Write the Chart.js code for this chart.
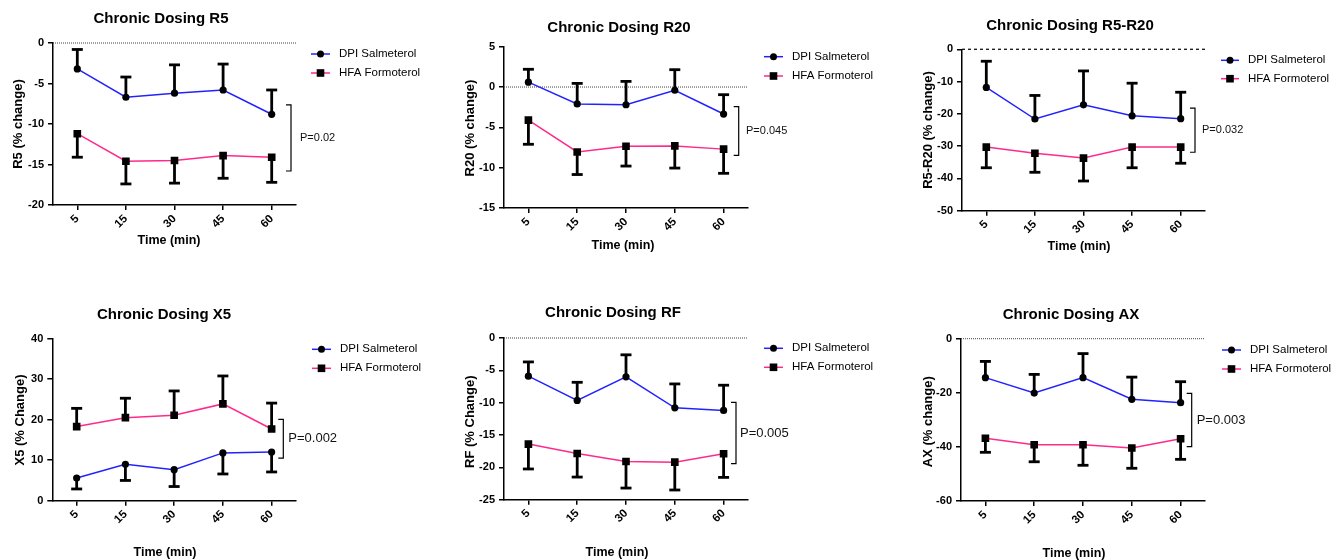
<!DOCTYPE html>
<html><head><meta charset="utf-8">
<script src="https://cdn.jsdelivr.net/npm/chart.js@4.4.0/dist/chart.umd.min.js"></script>
<style>
html,body{margin:0;padding:0;background:#fff;overflow:hidden;width:1334px;height:560px;position:relative}
canvas{position:absolute}
</style></head><body>
<script>
// ---- data ----
const timeLabels = ['5', '15', '30', '45', '60'];
const seriesNames = ['DPI Salmeterol', 'HFA Formoterol'];

const r5Dpi = [-3.2, -6.7, -6.2, -5.8, -8.8];
const r5DpiErr = [2.4, 2.5, 3.5, 3.2, 3.0];
const r5Hfa = [-11.2, -14.6, -14.5, -13.9, -14.1];
const r5HfaErr = [2.9, 2.8, 2.8, 2.8, 3.1];

const r20Dpi = [0.6, -2.1, -2.2, -0.4, -3.35];
const r20DpiErr = [1.6, 2.55, 2.9, 2.55, 2.4];
const r20Hfa = [-4.1, -8.05, -7.35, -7.3, -7.7];
const r20HfaErr = [3.0, 2.8, 2.45, 2.75, 3.0];

const r5r20Dpi = [-11.8, -21.6, -17.2, -20.6, -21.5];
const r5r20DpiErr = [8.1, 7.3, 10.5, 10.1, 8.2];
const r5r20Hfa = [-30.3, -32.2, -33.7, -30.3, -30.3];
const r5r20HfaErr = [6.4, 5.9, 7.1, 6.4, 5.0];

const x5Dpi = [5.6, 9.0, 7.65, 11.8, 12.0];
const x5DpiErr = [2.7, 4.0, 4.15, 5.2, 4.9];
const x5Hfa = [18.3, 20.5, 21.1, 23.9, 17.7];
const x5HfaErr = [4.5, 4.8, 6.0, 6.9, 6.4];

const rfDpi = [-5.9, -9.65, -6.0, -10.8, -11.2];
const rfDpiErr = [2.2, 2.8, 3.4, 3.7, 3.9];
const rfHfa = [-16.4, -17.85, -19.1, -19.2, -17.9];
const rfHfaErr = [3.85, 3.65, 4.1, 4.3, 3.65];

const axDpi = [-14.4, -20.1, -14.4, -22.4, -23.65];
const axDpiErr = [6.0, 6.9, 8.9, 8.2, 7.75];
const axHfa = [-36.8, -39.2, -39.2, -40.4, -37.0];
const axHfaErr = [5.2, 6.3, 7.6, 7.5, 7.6];

const panelTitles = ['Chronic Dosing R5', 'Chronic Dosing R20', 'Chronic Dosing R5-R20',
                     'Chronic Dosing X5', 'Chronic Dosing RF', 'Chronic Dosing AX'];
const yAxisTitles = ['R5 (% change)', 'R20 (% change)', 'R5-R20 (% change)',
                     'X5 (% Change)', 'RF (% Change)', 'AX (% change)'];
const xAxisTitle = 'Time (min)';
const pValues = ['P=0.02', 'P=0.045', 'P=0.032', 'P=0.002', 'P=0.005', 'P=0.003'];
const pBracketRanges = [[-7.65, -15.8], [-2.44, -8.47], [-18.2, -31.9], [20.1, 10.5], [-9.94, -19.43], [-20.2, -39.9]];
const yMins = [-20, -15, -50, 0, -25, -60];
const yMaxs = [0, 5, 0, 40, 0, 0];
const ySteps = [5, 5, 10, 10, 5, 20];

// ---- layout (page pixels) ----
const FONT = "'Liberation Sans', Arial, Helvetica, sans-serif";
const layouts = [
  {L:53, T:43, R:296, B:205, title:[161,19], ylab:[18,124], xlab:[169,241], leg:[311,330,339,54,73], brX:291, brTx:300, pSize:11, zero:'dot'},
  {L:504, T:46.7, R:748, B:208, title:[619,27.7], ylab:[470,128], xlab:[623,245.7], leg:[764,783,792,56.7,76], brX:738.7, brTx:746, pSize:11, zero:'dot'},
  {L:962, T:49.3, R:1205, B:210.7, title:[1070,26], ylab:[928,130], xlab:[1079,247], leg:[1221,1239,1248,60.3,78.7], brX:1195, brTx:1202, pSize:11, zero:'dash'},
  {L:52.3, T:338.7, R:296, B:500.7, title:[164,315], ylab:[20,420], xlab:[165,553], leg:[312,331,340,349.3,368.3], brX:283.3, brTx:288.3, pSize:13, zero:null},
  {L:504, T:338, R:748, B:499.7, title:[613,313.3], ylab:[470,421.7], xlab:[617,552.3], leg:[764,783,792,348.3,367.3], brX:736, brTx:740, pSize:13, zero:'dot'},
  {L:961, T:338.7, R:1205, B:501, title:[1071,315], ylab:[928.3,421.7], xlab:[1074,553.3], leg:[1222,1241,1250,350,369], brX:1191.7, brTx:1196.7, pSize:13, zero:'dot'}
];

const dpiSets = [r5Dpi, r20Dpi, r5r20Dpi, x5Dpi, rfDpi, axDpi];
const dpiErrSets = [r5DpiErr, r20DpiErr, r5r20DpiErr, x5DpiErr, rfDpiErr, axDpiErr];
const hfaSets = [r5Hfa, r20Hfa, r5r20Hfa, x5Hfa, rfHfa, axHfa];
const hfaErrSets = [r5HfaErr, r20HfaErr, r5r20HfaErr, x5HfaErr, rfHfaErr, axHfaErr];

const BLUE = '#2222ff';
const PINK = '#ff2a8c';

function mean(a){ return a.reduce((s,v)=>s+v,0)/a.length; }

function makePlugin(k, ox, oy){
  const lay = layouts[k];
  const px = x => x - ox, py = y => y - oy;
  return {
    id: 'panel' + k,
    beforeDatasetsDraw(chart){
      const ctx = chart.ctx, a = chart.chartArea, ys = chart.scales.y;
      ctx.save();
      if (lay.zero){
        const y0 = ys.getPixelForValue(0);
        ctx.beginPath();
        if (lay.zero === 'dash'){ ctx.setLineDash([3,3]); ctx.strokeStyle = '#111'; ctx.lineWidth = 1.3; }
        else { ctx.setLineDash([1,1]); ctx.strokeStyle = '#444'; ctx.lineWidth = 1; }
        ctx.moveTo(a.left, y0); ctx.lineTo(a.right, y0); ctx.stroke();
        ctx.setLineDash([]);
      }
      // error bars
      chart.data.datasets.forEach((ds, di) => {
        const meta = chart.getDatasetMeta(di);
        ctx.strokeStyle = '#000'; ctx.lineWidth = 2.8; ctx.lineCap = 'butt';
        ds.data.forEach((v, i) => {
          const x = meta.data[i].x;
          const yA = ys.getPixelForValue(v);
          const yB = ys.getPixelForValue(v + ds.errDir * ds.errors[i]);
          ctx.beginPath(); ctx.moveTo(x, yA); ctx.lineTo(x, yB); ctx.stroke();
          ctx.beginPath(); ctx.moveTo(x - 5.5, yB); ctx.lineTo(x + 5.5, yB); ctx.stroke();
        });
      });
      ctx.restore();
    },
    afterDraw(chart){
      const ctx = chart.ctx, ys = chart.scales.y;
      ctx.save();
      ctx.fillStyle = '#000';
      // title
      ctx.font = 'bold 15px ' + FONT; ctx.textAlign = 'center'; ctx.textBaseline = 'middle';
      ctx.fillText(panelTitles[k], px(lay.title[0]), py(lay.title[1]));
      // x title
      ctx.font = 'bold 12.5px ' + FONT;
      ctx.fillText(xAxisTitle, px(lay.xlab[0]), py(lay.xlab[1]));
      // y title
      ctx.save();
      ctx.font = 'bold 13px ' + FONT;
      ctx.translate(px(lay.ylab[0]), py(lay.ylab[1])); ctx.rotate(-Math.PI/2);
      ctx.fillText(yAxisTitles[k], 0, 0);
      ctx.restore();
      // legend
      const [x1, x2, tx, ly1, ly2] = lay.leg;
      const cols = [BLUE, PINK];
      [ly1, ly2].forEach((ly, i) => {
        ctx.strokeStyle = cols[i]; ctx.lineWidth = 1.5;
        ctx.beginPath(); ctx.moveTo(px(x1), py(ly)); ctx.lineTo(px(x2), py(ly)); ctx.stroke();
        const mx = px((x1 + x2) / 2), my = py(ly);
        ctx.fillStyle = '#000';
        if (i === 0){ ctx.beginPath(); ctx.arc(mx, my, 3.5, 0, Math.PI*2); ctx.fill(); }
        else { ctx.fillRect(mx - 3.8, my - 3.8, 7.6, 7.6); }
        ctx.font = '11.5px ' + FONT; ctx.textAlign = 'left'; ctx.textBaseline = 'middle';
        ctx.fillText(seriesNames[i], px(tx), my);
      });
      // bracket
      const bx = px(lay.brX);
      const by1 = ys.getPixelForValue(pBracketRanges[k][0]);
      const by2 = ys.getPixelForValue(pBracketRanges[k][1]);
      ctx.strokeStyle = '#000'; ctx.lineWidth = 1.2;
      ctx.beginPath();
      ctx.moveTo(bx - 5, by1); ctx.lineTo(bx, by1); ctx.lineTo(bx, by2); ctx.lineTo(bx - 5, by2);
      ctx.stroke();
      ctx.font = lay.pSize + 'px ' + FONT; ctx.textAlign = 'left'; ctx.textBaseline = 'middle';
      ctx.fillStyle = '#111';
      ctx.fillText(pValues[k], px(lay.brTx), (by1 + by2) / 2);
      ctx.restore();
    }
  };
}

layouts.forEach((lay, k) => {
  const left = Math.round(lay.L - 52);
  const top = Math.round(lay.T - 43);
  const W = Math.min(440, 1334 - left);
  const H = (k < 3 ? 292 : 560) - top;
  const cv = document.createElement('canvas');
  cv.width = W; cv.height = H;
  cv.style.left = left + 'px'; cv.style.top = top + 'px';
  cv.style.width = W + 'px'; cv.style.height = H + 'px';
  document.body.appendChild(cv);
  const yW = lay.L - left, topPad = lay.T - top;
  const plotW = lay.R - lay.L, plotH = lay.B - lay.T;
  const dpi = dpiSets[k], hfa = hfaSets[k];
  const dpiUp = mean(dpi) > mean(hfa);
  const axisCommon = {
    border: {display: true, color: '#000', width: 1.5},
    grid: {display: true, drawOnChartArea: false, drawTicks: true, tickLength: 5, color: '#000', lineWidth: 1.5},
  };
  new Chart(cv, {
    type: 'line',
    data: {
      labels: timeLabels,
      datasets: [
        {label: seriesNames[0], data: dpi, errors: dpiErrSets[k], errDir: dpiUp ? 1 : -1,
         borderColor: BLUE, borderWidth: 1.5, pointStyle: 'circle', pointRadius: 3.6,
         pointBackgroundColor: '#000', pointBorderColor: '#000', pointBorderWidth: 0, tension: 0, fill: false},
        {label: seriesNames[1], data: hfa, errors: hfaErrSets[k], errDir: dpiUp ? -1 : 1,
         borderColor: PINK, borderWidth: 1.5, pointStyle: 'rect', pointRadius: 5.4,
         pointBackgroundColor: '#000', pointBorderColor: '#000', pointBorderWidth: 0, tension: 0, fill: false}
      ]
    },
    options: {
      responsive: false, animation: false, events: [],
      layout: {padding: {left: 0, top: topPad, right: W - yW - plotW, bottom: 0}},
      plugins: {legend: {display: false}, title: {display: false}, tooltip: {enabled: false}},
      scales: {
        x: Object.assign({}, axisCommon, {
          type: 'category', offset: true,
          ticks: {color: '#000', font: {family: FONT, size: 11.5, weight: 'bold'}, maxRotation: 45, minRotation: 45, autoSkip: false, padding: 2},
          afterFit(s){ s.height = H - topPad - plotH; }
        }),
        y: Object.assign({}, axisCommon, {
          min: yMins[k], max: yMaxs[k],
          ticks: {stepSize: ySteps[k], color: '#000', font: {family: FONT, size: 11, weight: 'bold'}, padding: 4},
          afterFit(s){ s.width = yW; }
        })
      }
    },
    plugins: [makePlugin(k, left, top)]
  });
});
</script>
</body></html>
